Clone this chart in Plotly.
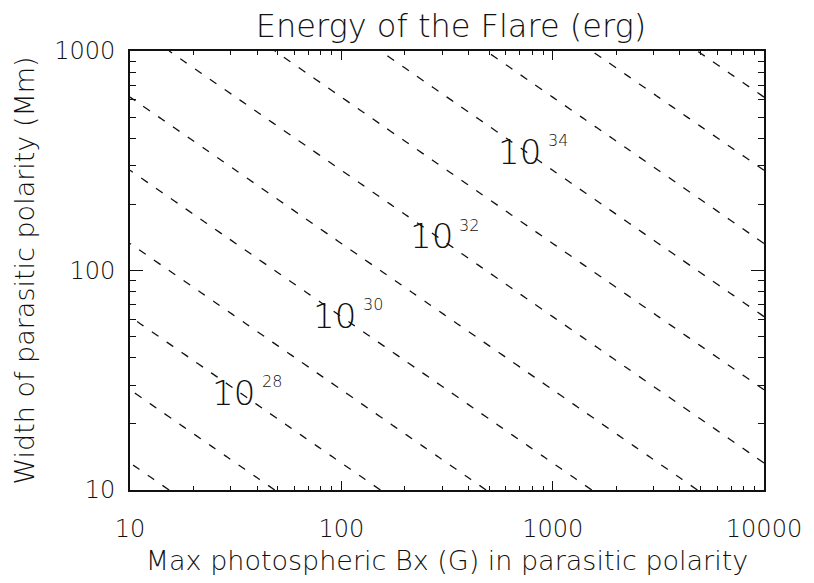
import numpy as np
import plotly.graph_objects as go

# ---- data ----
title_text = "Energy of the Flare (erg)"
x_title = "Max photospheric Bx (G) in parasitic polarity"
y_title = "Width of parasitic polarity (Mm)"

x_tick_vals = [10, 100, 1000, 10000]
x_tick_text = ["10", "100", "1000", "10000"]
y_tick_vals = [10, 100, 1000]
y_tick_text = ["10", "100", "1000"]

# contour levels: log10(E / erg), one dashed line per order of magnitude
energy_levels = list(range(26, 38))
# constant of E = k * Bx^2 * W^3 (Bx in G, W in Mm), fitted to the drawn lines
log_k = 20.63

# labelled contours and where their labels sit along Bx
label_levels = [28, 30, 32, 34]
label_bx = [31, 93, 266, 700]

# grid for the contour field (log-spaced over the axis ranges)
bx_grid = np.logspace(1, 4, 61)
w_grid = np.logspace(1, 3, 41)
BX, W = np.meshgrid(bx_grid, w_grid)
logE = log_k + 2 * np.log10(BX) + 3 * np.log10(W)

ink = "#111111"
font_main = "DejaVu Sans"
fw = 200

# the page body keeps its default 8px margin, so the figure is sized to fit
FIG_W, FIG_H = 806, 575

fig = go.Figure()
fig.add_trace(go.Contour(
    x=bx_grid, y=w_grid, z=logE,
    contours=dict(coloring="none", start=min(energy_levels),
                  end=max(energy_levels), size=1, showlabels=False),
    line=dict(color=ink, width=1.3, dash="8px,10px"),
    showscale=False, hoverinfo="skip",
))

annotations = []
for lev, bx in zip(label_levels, label_bx):
    w_on_line = 10 ** ((lev - log_k - 2 * np.log10(bx)) / 3)
    annotations.append(dict(
        x=np.log10(bx), y=np.log10(w_on_line), xref="x", yref="y",
        text="10", showarrow=False, xanchor="center", yanchor="middle",
        font=dict(family=font_main, size=34, color=ink, weight=fw), yshift=-4,
    ))
    annotations.append(dict(
        x=np.log10(bx), y=np.log10(w_on_line), xref="x", yref="y",
        text=str(lev), showarrow=False, xanchor="left", yanchor="middle",
        font=dict(family=font_main, size=16, color=ink, weight=fw),
        xshift=26, yshift=7,
    ))

minor_x = [d * 10 ** e for e in range(1, 4) for d in range(2, 10)]
minor_y = [d * 10 ** e for e in range(1, 3) for d in range(2, 10)]

fig.update_layout(
    width=FIG_W, height=FIG_H,
    margin=dict(l=122, r=42, t=43, b=78),
    paper_bgcolor="white", plot_bgcolor="white",
    showlegend=False,
    title=dict(text=title_text, x=443 / FIG_W, xanchor="center",
               y=1 - 18 / FIG_H, yanchor="middle", yref="container",
               font=dict(family=font_main, size=32, color=ink, weight=fw)),
    font=dict(family=font_main, size=24, color=ink, weight=fw),
    annotations=annotations,
)

fig.update_xaxes(
    type="log", range=[1, 4], showgrid=False, zeroline=False,
    showline=True, linecolor=ink, linewidth=1.6, mirror="allticks",
    ticks="inside", ticklen=9, tickwidth=1.2, tickcolor=ink,
    tickmode="array", tickvals=x_tick_vals, ticktext=x_tick_text,
    tickfont=dict(family=font_main, size=24, color=ink, weight=fw),
    ticklabelstandoff=16,
    minor=dict(ticks="inside", ticklen=4.5, tickwidth=1.0, tickcolor=ink,
               tickvals=minor_x, showgrid=False),
    title=dict(text=x_title, font=dict(family=font_main, size=27, color=ink, weight=fw),
               standoff=10),
)
fig.update_yaxes(
    type="log", range=[1, 3], showgrid=False, zeroline=False,
    showline=True, linecolor=ink, linewidth=1.6, mirror="allticks",
    ticks="inside", ticklen=13, tickwidth=1.2, tickcolor=ink,
    tickmode="array", tickvals=y_tick_vals, ticktext=y_tick_text,
    tickfont=dict(family=font_main, size=24, color=ink, weight=fw),
    ticklabelstandoff=8,
    minor=dict(ticks="inside", ticklen=6.5, tickwidth=1.0, tickcolor=ink,
               tickvals=minor_y, showgrid=False),
    title=dict(text=y_title, font=dict(family=font_main, size=27, color=ink, weight=fw),
               standoff=12),
)

fig.write_html("out.html")
